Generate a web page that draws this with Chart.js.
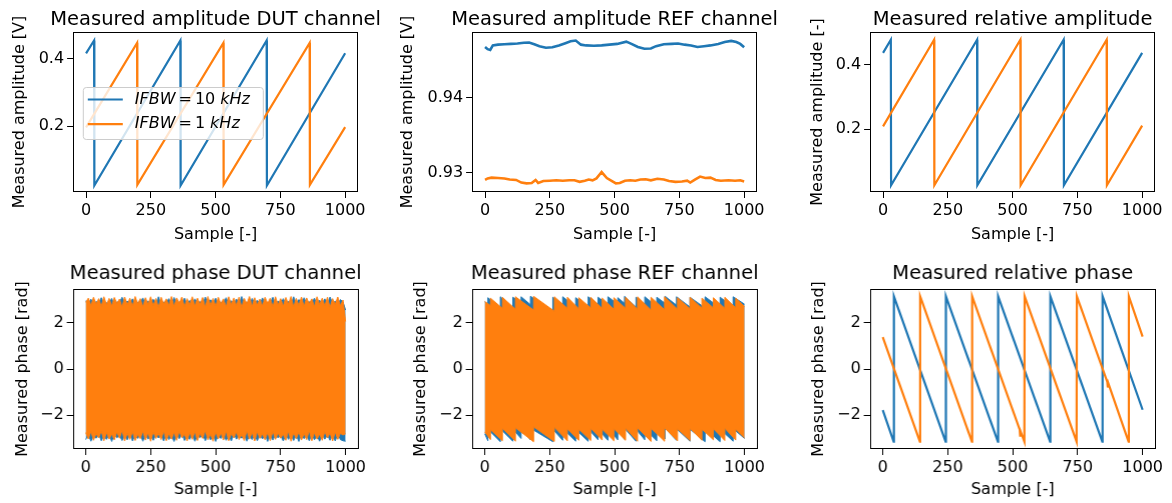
<!DOCTYPE html>
<html>
<head>
<meta charset="utf-8">
<script src="https://cdn.jsdelivr.net/npm/chart.js@4.4.0/dist/chart.umd.min.js"></script>
<style>
  html, body { margin: 0; padding: 0; background: #fff; }
  body { width: 1172px; height: 503px; position: relative; overflow: hidden; }
  .panel { position: absolute; }
</style>
</head>
<body>
<script>
const BLUE = '#1f77b4';
const ORANGE = '#ff7f0e';

const sampleTicks = [0, 250, 500, 750, 1000];
const legendLabels = ['10', '1'];   // IFBW in kHz

// Measured amplitude DUT channel: sawtooth corners [sample, V]
const ampDutBlue = [[0, 0.415], [31, 0.453], [32, 0.024], [364, 0.453], [365, 0.024], [697, 0.453], [698, 0.024], [1000, 0.415]];
const ampDutOrange = [[0, 0.196], [197, 0.446], [198, 0.026], [530, 0.446], [531, 0.026], [863, 0.446], [864, 0.026], [1000, 0.197]];
const ampDutTicks = [0.2, 0.4];

// Measured amplitude REF channel
const refAmpBlueX = [0, 10, 20, 30, 50, 75, 100, 125, 150, 170, 190, 210, 235, 260, 285, 310, 330, 350, 370, 390, 420, 450, 480, 510, 545, 565, 590, 615, 640, 660, 690, 720, 745, 770, 795, 820, 845, 870, 900, 925, 950, 970, 985, 1000];
const refAmpBlueY = [0.94670, 0.94640, 0.94630, 0.94690, 0.94700, 0.94705, 0.94710, 0.94715, 0.94725, 0.94728, 0.94705, 0.94680, 0.94660, 0.94665, 0.94690, 0.94720, 0.94745, 0.94755, 0.94700, 0.94690, 0.94685, 0.94690, 0.94700, 0.94710, 0.94740, 0.94710, 0.94670, 0.94645, 0.94650, 0.94680, 0.94705, 0.94710, 0.94715, 0.94700, 0.94690, 0.94670, 0.94680, 0.94690, 0.94710, 0.94735, 0.94750, 0.94735, 0.94710, 0.94665];
const refAmpOrangeX = [0, 10, 25, 50, 75, 95, 120, 140, 160, 180, 195, 205, 225, 250, 275, 300, 325, 345, 365, 385, 400, 415, 430, 450, 470, 490, 505, 520, 540, 560, 580, 600, 620, 640, 665, 690, 710, 735, 760, 780, 792, 810, 830, 850, 870, 890, 910, 940, 965, 985, 1000];
const refAmpOrangeY = [0.92905, 0.92925, 0.92935, 0.92930, 0.92925, 0.92910, 0.92905, 0.92870, 0.92860, 0.92865, 0.92905, 0.92865, 0.92890, 0.92895, 0.92900, 0.92895, 0.92900, 0.92900, 0.92880, 0.92895, 0.92910, 0.92900, 0.92925, 0.93010, 0.92930, 0.92890, 0.92860, 0.92865, 0.92895, 0.92900, 0.92895, 0.92910, 0.92915, 0.92900, 0.92920, 0.92910, 0.92890, 0.92880, 0.92885, 0.92895, 0.92870, 0.92910, 0.92950, 0.92930, 0.92935, 0.92905, 0.92895, 0.92900, 0.92895, 0.92900, 0.92885];
const refAmpTicks = [0.93, 0.94];

// Measured relative amplitude
const relAmpBlue = [[0, 0.437], [30, 0.478], [31, 0.026], [363, 0.478], [364, 0.026], [697, 0.478], [698, 0.026], [1000, 0.437]];
const relAmpOrange = [[0, 0.209], [197, 0.478], [198, 0.026], [530, 0.478], [531, 0.026], [863, 0.478], [864, 0.026], [1000, 0.211]];
const relAmpTicks = [0.2, 0.4];

// Measured phase DUT channel: envelope of the dense trace, every 10 samples
const dutEnvX = Array.from({ length: 101 }, (_, i) => i * 10);
const dutOrangeTop = [
  2.88, 3.06, 2.74, 3.10, 2.80, 3.04, 2.70, 3.12, 2.78, 3.05,
  2.72, 3.09, 2.83, 3.02, 2.68, 3.11, 2.76, 3.06, 2.71, 3.13,
  2.82, 3.04, 2.69, 3.08, 2.79, 3.12, 2.73, 3.05, 2.66, 3.10,
  2.81, 3.03, 2.74, 3.13, 2.70, 3.07, 2.84, 3.11, 2.69, 3.04,
  2.77, 3.12, 2.72, 3.06, 2.80, 3.09, 2.67, 3.13, 2.75, 3.05,
  2.71, 3.10, 2.82, 3.03, 2.69, 3.12, 2.78, 3.07, 2.73, 3.11,
  2.66, 3.05, 2.81, 3.13, 2.70, 3.08, 2.76, 3.02, 2.72, 3.10,
  2.83, 3.06, 2.68, 3.12, 2.77, 3.04, 2.71, 3.09, 2.80, 3.13,
  2.67, 3.05, 2.74, 3.11, 2.70, 3.07, 2.82, 3.03, 2.69, 3.12,
  2.78, 3.06, 2.72, 3.10, 2.66, 3.04, 2.79, 3.11, 2.73, 2.98,
  2.05];
const dutOrangeBottom = [
  -2.75, -3.02, -2.70, -3.08, -2.79, -2.98, -2.68, -3.10, -2.74, -3.03,
  -2.81, -3.06, -2.72, -2.99, -2.66, -3.11, -2.77, -3.04, -2.70, -3.09,
  -2.83, -3.01, -2.69, -3.07, -2.75, -3.12, -2.71, -3.00, -2.78, -3.05,
  -2.67, -3.10, -2.80, -3.03, -2.73, -3.08, -2.69, -2.97, -2.82, -3.11,
  -2.74, -3.04, -2.70, -3.09, -2.78, -3.00, -2.66, -3.06, -2.81, -3.12,
  -2.72, -3.02, -2.76, -3.07, -2.68, -3.10, -2.79, -2.98, -2.71, -3.05,
  -2.83, -3.09, -2.67, -3.03, -2.74, -3.11, -2.70, -3.00, -2.80, -3.06,
  -2.73, -3.10, -2.69, -3.04, -2.77, -2.99, -2.82, -3.08, -2.68, -3.12,
  -2.75, -3.01, -2.71, -3.07, -2.79, -3.05, -2.66, -3.10, -2.74, -3.03,
  -2.81, -3.08, -2.70, -2.98, -2.76, -3.11, -2.72, -3.04, -2.78, -2.85,
  -2.80];
const dutBlueTop = [
  2.95, 2.80, 3.02, 2.76, 2.92, 2.84, 3.08, 2.78, 2.86, 2.82,
  3.05, 2.74, 2.90, 2.86, 3.10, 2.79, 2.94, 2.81, 3.03, 2.77,
  2.88, 2.85, 3.07, 2.75, 2.93, 2.83, 3.01, 2.80, 3.12, 2.76,
  2.89, 2.84, 3.04, 2.79, 3.09, 2.78, 2.91, 2.82, 3.06, 2.80,
  2.96, 2.77, 3.03, 2.85, 2.90, 2.81, 3.11, 2.76, 2.99, 2.83,
  3.06, 2.79, 2.88, 2.84, 3.08, 2.78, 2.95, 2.81, 3.02, 2.77,
  3.13, 2.82, 2.90, 2.75, 3.05, 2.83, 2.97, 2.80, 3.07, 2.78,
  2.89, 2.84, 3.10, 2.76, 2.94, 2.82, 3.04, 2.79, 2.92, 2.75,
  3.12, 2.81, 3.00, 2.77, 3.08, 2.83, 2.90, 2.85, 3.06, 2.78,
  2.97, 2.82, 3.03, 2.76, 3.11, 2.84, 2.93, 2.79, 3.00, 2.90,
  2.55];
const dutBlueBottom = [
  -3.05, -2.82, -3.12, -2.85, -2.99, -2.80, -3.10, -2.86, -3.04, -2.83,
  -3.13, -2.81, -2.97, -2.87, -3.09, -2.84, -3.06, -2.79, -3.11, -2.85,
  -3.00, -2.83, -3.12, -2.80, -3.03, -2.86, -3.08, -2.82, -2.98, -2.84,
  -3.11, -2.81, -3.05, -2.87, -3.13, -2.83, -3.01, -2.80, -3.09, -2.85,
  -3.04, -2.82, -3.12, -2.86, -2.97, -2.81, -3.10, -2.84, -3.06, -2.79,
  -3.13, -2.85, -3.00, -2.82, -3.08, -2.87, -3.11, -2.80, -3.03, -2.84,
  -2.99, -2.81, -3.12, -2.86, -3.05, -2.83, -3.10, -2.85, -3.02, -2.80,
  -3.13, -2.84, -3.07, -2.82, -2.98, -2.86, -3.11, -2.81, -3.04, -2.83,
  -3.09, -2.85, -3.13, -2.80, -3.01, -2.84, -3.10, -2.82, -3.06, -2.87,
  -3.12, -2.81, -3.03, -2.85, -3.08, -2.83, -3.11, -2.80, -3.05, -3.10,
  -3.12];

// Measured phase REF channel: envelope teeth (sample, value before jump, value after jump)
const refOrangeTeethX = [22, 68, 118, 188, 268, 318, 362, 408, 452, 497, 542, 588, 640, 692, 742, 790, 836, 880, 924, 966];
const refOrangeTopPre = [2.74, 2.62, 2.58, 2.55, 2.50, 2.62, 2.60, 2.64, 2.62, 2.58, 2.62, 2.58, 2.55, 2.56, 2.58, 2.60, 2.62, 2.64, 2.62, 2.64];
const refOrangeTopPost = [3.06, 3.10, 3.12, 3.14, 3.12, 3.10, 3.08, 3.10, 3.06, 3.08, 3.10, 3.12, 3.10, 3.12, 3.08, 3.10, 3.06, 3.08, 3.10, 3.06];
const refOrangeBotPre = [-3.05, -3.10, -3.12, -3.14, -3.13, -3.10, -3.08, -3.09, -3.07, -3.10, -3.08, -3.12, -3.13, -3.12, -3.10, -3.09, -3.08, -3.06, -3.09, -3.07];
const refOrangeBotPost = [-2.62, -2.56, -2.54, -2.50, -2.52, -2.58, -2.60, -2.56, -2.60, -2.58, -2.56, -2.54, -2.56, -2.54, -2.58, -2.56, -2.60, -2.58, -2.56, -2.60];
const refBlueTeethX = [12, 60, 108, 140, 176, 262, 300, 350, 398, 436, 474, 512, 538, 582, 616, 662, 694, 738, 790, 848, 906, 956];
const refBlueTopPre = [2.80, 2.64, 2.62, 2.86, 2.78, 2.52, 2.76, 2.68, 2.68, 2.80, 2.78, 2.80, 2.84, 2.68, 2.80, 2.70, 2.84, 2.76, 2.68, 2.64, 2.64, 2.68];
const refBlueTopPost = [3.08, 3.12, 3.10, 3.12, 3.14, 3.10, 3.12, 3.08, 3.12, 3.10, 3.12, 3.08, 3.14, 3.10, 3.12, 3.10, 3.14, 3.12, 3.10, 3.12, 3.10, 3.12];
const refBlueBotPre = [-3.10, -3.14, -3.12, -3.00, -3.06, -3.14, -3.08, -3.12, -3.12, -3.06, -3.08, -3.06, -3.04, -3.12, -3.06, -3.10, -3.02, -3.08, -3.12, -3.14, -3.14, -3.12];
const refBlueBotPost = [-2.60, -2.58, -2.60, -2.58, -2.56, -2.60, -2.58, -2.62, -2.58, -2.60, -2.58, -2.62, -2.56, -2.60, -2.58, -2.60, -2.56, -2.58, -2.60, -2.58, -2.60, -2.58];

// Measured relative phase: corners [sample, rad]
const relPhaseBlue = [[0, -1.78], [42, -3.14], [43, 3.14], [242, -3.14], [243, 3.14], [443, -3.14], [444, 3.14], [644, -3.14], [645, 3.14], [845, -3.14], [846, 3.14], [1000, -1.76]];
const relPhaseOrange = [[0, 1.38], [143, -3.14], [144, 3.14], [343, -3.14], [344, 3.14], [527, -2.62], [529, -2.92], [531, -2.72], [545, -3.14], [546, 3.14], [746, -3.14], [747, 3.14], [864, -0.56], [866, -0.80], [868, -0.62], [946, -3.14], [947, 3.14], [1000, 1.40]];
const phaseTicks = [-2, 0, 2];

// helpers
const pairs = arr => arr.map(([x, y]) => ({ x, y }));
const zipXY = (xs, ys) => xs.map((x, i) => ({ x, y: ys[i] }));
function teeth(x0, y0, xs, pre, post, x1, y1) {
  const out = [{ x: x0, y: y0 }];
  xs.forEach((x, i) => {
    out.push({ x, y: pre[i] });
    out.push({ x, y: post[i] });
  });
  out.push({ x: x1, y: y1 });
  return out;
}
const line = (data, color, order, width) => ({
  data, borderColor: color, backgroundColor: color, borderWidth: width || 2.2,
  pointRadius: 0, tension: 0, fill: false, order
});
const band = (lower, upper, color, order) => [
  { data: lower, borderColor: color, backgroundColor: color, borderWidth: 1, pointRadius: 0, tension: 0, fill: false, order },
  { data: upper, borderColor: color, backgroundColor: color, borderWidth: 1, pointRadius: 0, tension: 0, fill: '-1', order }
];
const minus = v => String(v).replace('-', '\u2212');

Chart.defaults.font.family = 'DejaVu Sans';
Chart.defaults.font.size = 16;
Chart.defaults.color = '#000';

const AX_W = 285, AX_H = 160, TOP_PAD = 32;

const panels = [
  {
    left: 9.9, top: 0, yW: 63.1, right: 32, xH: 52, titleGap: 7,
    title: 'Measured amplitude DUT channel', yLabel: 'Measured amplitude [V]',
    yMin: 0.005, yMax: 0.478, yTicks: ampDutTicks, fmt: v => v.toFixed(1), legend: true,
    datasets: [line(pairs(ampDutBlue), BLUE, 2), line(pairs(ampDutOrange), ORANGE, 1)]
  },
  {
    left: 397.9, top: 0, yW: 74.1, right: 43, xH: 52, titleGap: 7,
    title: 'Measured amplitude REF channel', yLabel: 'Measured amplitude [V]',
    yMin: 0.92745, yMax: 0.94868, yTicks: refAmpTicks, fmt: v => v.toFixed(2),
    datasets: [line(zipXY(refAmpBlueX, refAmpBlueY), BLUE, 2, 2.6), line(zipXY(refAmpOrangeX, refAmpOrangeY), ORANGE, 1, 2.6)]
  },
  {
    left: 807.9, top: 0, yW: 62.1, right: 17, xH: 52, titleGap: 7,
    title: 'Measured relative amplitude', yLabel: 'Measured amplitude [-]',
    yMin: 0.005, yMax: 0.502, yTicks: relAmpTicks, fmt: v => v.toFixed(1),
    datasets: [line(pairs(relAmpBlue), BLUE, 2), line(pairs(relAmpOrange), ORANGE, 1)]
  },
  {
    left: 13.4, top: 257, yW: 59.6, right: 32, xH: 50, titleGap: 10.5,
    title: 'Measured phase DUT channel', yLabel: 'Measured phase [rad]',
    yMin: -3.456, yMax: 3.456, yTicks: phaseTicks, fmt: minus,
    datasets: [
      ...band(zipXY(dutEnvX, dutBlueBottom), zipXY(dutEnvX, dutBlueTop), BLUE, 2),
      ...band(zipXY(dutEnvX, dutOrangeBottom), zipXY(dutEnvX, dutOrangeTop), ORANGE, 1)
    ]
  },
  {
    left: 411.4, top: 257, yW: 60.6, right: 43, xH: 50, titleGap: 10.5,
    title: 'Measured phase REF channel', yLabel: 'Measured phase [rad]',
    yMin: -3.456, yMax: 3.456, yTicks: phaseTicks, fmt: minus,
    datasets: [
      ...band(teeth(0, -2.80, refBlueTeethX, refBlueBotPre, refBlueBotPost, 1000, -3.00),
              teeth(0, 2.90, refBlueTeethX, refBlueTopPre, refBlueTopPost, 1000, 2.80), BLUE, 2),
      ...band(teeth(0, -2.72, refOrangeTeethX, refOrangeBotPre, refOrangeBotPost, 1000, -2.98),
              teeth(0, 2.92, refOrangeTeethX, refOrangeTopPre, refOrangeTopPost, 1000, 2.70), ORANGE, 1)
    ]
  },
  {
    left: 809.4, top: 257, yW: 60.6, right: 17, xH: 50, titleGap: 10.5,
    title: 'Measured relative phase', yLabel: 'Measured phase [rad]',
    yMin: -3.456, yMax: 3.456, yTicks: phaseTicks, fmt: minus,
    datasets: [line(pairs(relPhaseBlue), BLUE, 2), line(pairs(relPhaseOrange), ORANGE, 1)]
  }
];

// title above the axes and the black frame round them
const decor = {
  id: 'decor',
  afterDraw(chart, args, opts) {
    const { ctx, chartArea: a } = chart;
    ctx.save();
    ctx.strokeStyle = '#000';
    ctx.lineWidth = 1;
    ctx.strokeRect(Math.round(a.left) + 0.5, Math.round(a.top) + 0.5, Math.round(a.right - a.left) - 1, Math.round(a.bottom - a.top) - 1);
    ctx.fillStyle = '#000';
    ctx.font = '19.5px "DejaVu Sans"';
    ctx.textAlign = 'center';
    ctx.textBaseline = 'alphabetic';
    ctx.fillText(opts.text, (a.left + a.right) / 2, a.top - opts.gap);
    ctx.restore();
  }
};

// matplotlib-like legend, only on the first panel
const mplLegend = {
  id: 'mplLegend',
  afterDatasetsDraw(chart, args, opts) {
    if (!opts.show) return;
    const { ctx, chartArea: a } = chart;
    const bx = a.left + 9.7, by = a.top + 55, bw = 180, bh = 52;
    ctx.save();
    ctx.beginPath();
    ctx.roundRect(bx + 0.5, by + 0.5, bw, bh, 3);
    ctx.fillStyle = 'rgba(255,255,255,0.8)';
    ctx.fill();
    ctx.strokeStyle = '#cccccc';
    ctx.lineWidth = 1;
    ctx.stroke();
    const colors = [BLUE, ORANGE];
    legendLabels.forEach((val, i) => {
      const y = by + 12.5 + i * 24.7;
      ctx.strokeStyle = colors[i];
      ctx.lineWidth = 2.2;
      ctx.beginPath();
      ctx.moveTo(bx + 5, y);
      ctx.lineTo(bx + 40, y);
      ctx.stroke();
      ctx.fillStyle = '#000';
      ctx.textBaseline = 'middle';
      ctx.textAlign = 'left';
      let x = bx + 52;
      const italic = 'italic 16px "DejaVu Sans"', upright = '16px "DejaVu Sans"';
      ctx.font = italic; ctx.fillText('IFBW', x, y); x += ctx.measureText('IFBW').width + 3;
      ctx.font = upright; ctx.fillText('=', x, y); x += ctx.measureText('=').width + 3;
      ctx.fillText(val, x, y); x += ctx.measureText(val).width + 5;
      ctx.font = italic; ctx.fillText('kHz', x, y);
    });
    ctx.restore();
  }
};

panels.forEach(p => {
  const div = document.createElement('div');
  div.className = 'panel';
  div.style.left = p.left + 'px';
  div.style.top = p.top + 'px';
  div.style.width = (p.yW + AX_W + p.right) + 'px';
  div.style.height = (TOP_PAD + AX_H + p.xH) + 'px';
  const canvas = document.createElement('canvas');
  div.appendChild(canvas);
  document.body.appendChild(div);

  new Chart(canvas, {
    type: 'line',
    data: { datasets: p.datasets },
    plugins: [decor, mplLegend],
    options: {
      responsive: true,
      maintainAspectRatio: false,
      animation: false,
      events: [],
      layout: { padding: { top: TOP_PAD, right: p.right, left: 0, bottom: 0 } },
      plugins: {
        legend: { display: false },
        tooltip: { enabled: false },
        decor: { text: p.title, gap: p.titleGap },
        mplLegend: { show: !!p.legend }
      },
      scales: {
        x: {
          type: 'linear',
          min: -50,
          max: 1050,
          afterBuildTicks: s => { s.ticks = sampleTicks.map(v => ({ value: v })); },
          afterFit: s => { s.height = p.xH; },
          ticks: { padding: 3, maxRotation: 0, autoSkip: false, callback: v => String(v) },
          grid: { drawOnChartArea: false, drawTicks: true, tickLength: 6, tickColor: '#000', tickWidth: 1 },
          border: { display: false },
          title: { display: true, text: 'Sample [-]', padding: 0, font: { size: 16 } }
        },
        y: {
          type: 'linear',
          min: p.yMin,
          max: p.yMax,
          afterBuildTicks: s => { s.ticks = p.yTicks.map(v => ({ value: v })); },
          afterFit: s => { s.width = p.yW; },
          ticks: { padding: 3, autoSkip: false, callback: v => p.fmt(v) },
          grid: { drawOnChartArea: false, drawTicks: true, tickLength: 6, tickColor: '#000', tickWidth: 1 },
          border: { display: false },
          title: { display: true, text: p.yLabel, padding: 0, font: { size: 16 } }
        }
      }
    }
  });
});
</script>
</body>
</html>
